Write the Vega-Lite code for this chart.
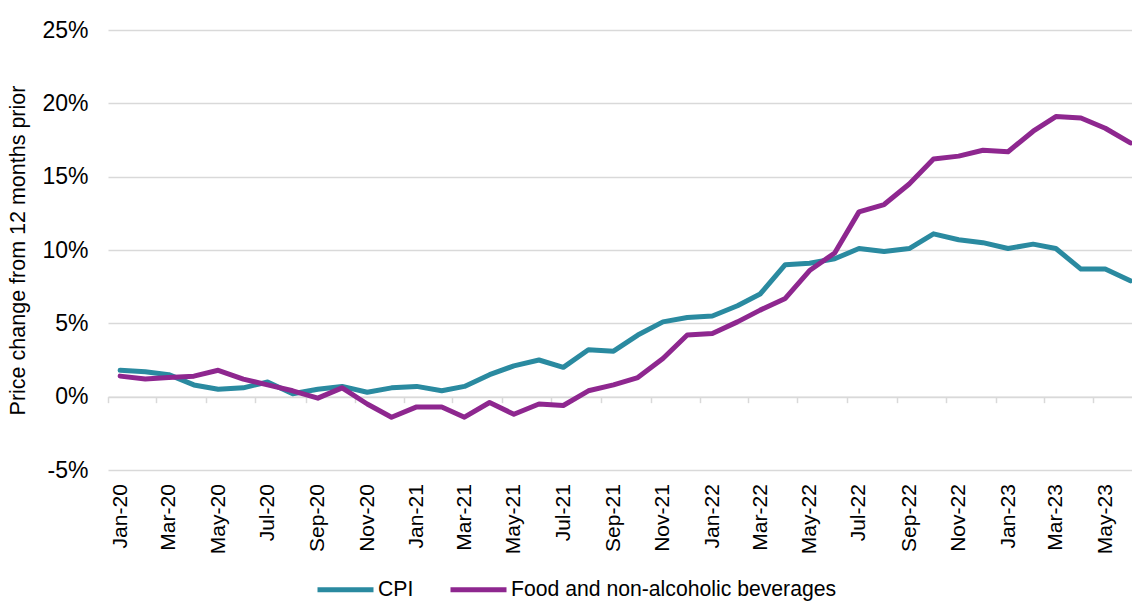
{
  "$schema": "https://vega.github.io/schema/vega-lite/v6.json",
  "autosize": "none",
  "padding": {"left": 108, "top": 30, "right": 0, "bottom": 132},
  "width": 1024,
  "height": 440,
  "background": "white",
  "config": {"font": "Liberation Sans", "view": {"stroke": null}},
  "data": {"values": [
    {"month": "2020/01/01", "series": "CPI", "value": 1.8},
    {"month": "2020/02/01", "series": "CPI", "value": 1.7},
    {"month": "2020/03/01", "series": "CPI", "value": 1.5},
    {"month": "2020/04/01", "series": "CPI", "value": 0.8},
    {"month": "2020/05/01", "series": "CPI", "value": 0.5},
    {"month": "2020/06/01", "series": "CPI", "value": 0.6},
    {"month": "2020/07/01", "series": "CPI", "value": 1.0},
    {"month": "2020/08/01", "series": "CPI", "value": 0.2},
    {"month": "2020/09/01", "series": "CPI", "value": 0.5},
    {"month": "2020/10/01", "series": "CPI", "value": 0.7},
    {"month": "2020/11/01", "series": "CPI", "value": 0.3},
    {"month": "2020/12/01", "series": "CPI", "value": 0.6},
    {"month": "2021/01/01", "series": "CPI", "value": 0.7},
    {"month": "2021/02/01", "series": "CPI", "value": 0.4},
    {"month": "2021/03/01", "series": "CPI", "value": 0.7},
    {"month": "2021/04/01", "series": "CPI", "value": 1.5},
    {"month": "2021/05/01", "series": "CPI", "value": 2.1},
    {"month": "2021/06/01", "series": "CPI", "value": 2.5},
    {"month": "2021/07/01", "series": "CPI", "value": 2.0},
    {"month": "2021/08/01", "series": "CPI", "value": 3.2},
    {"month": "2021/09/01", "series": "CPI", "value": 3.1},
    {"month": "2021/10/01", "series": "CPI", "value": 4.2},
    {"month": "2021/11/01", "series": "CPI", "value": 5.1},
    {"month": "2021/12/01", "series": "CPI", "value": 5.4},
    {"month": "2022/01/01", "series": "CPI", "value": 5.5},
    {"month": "2022/02/01", "series": "CPI", "value": 6.2},
    {"month": "2022/03/01", "series": "CPI", "value": 7.0},
    {"month": "2022/04/01", "series": "CPI", "value": 9.0},
    {"month": "2022/05/01", "series": "CPI", "value": 9.1},
    {"month": "2022/06/01", "series": "CPI", "value": 9.4},
    {"month": "2022/07/01", "series": "CPI", "value": 10.1},
    {"month": "2022/08/01", "series": "CPI", "value": 9.9},
    {"month": "2022/09/01", "series": "CPI", "value": 10.1},
    {"month": "2022/10/01", "series": "CPI", "value": 11.1},
    {"month": "2022/11/01", "series": "CPI", "value": 10.7},
    {"month": "2022/12/01", "series": "CPI", "value": 10.5},
    {"month": "2023/01/01", "series": "CPI", "value": 10.1},
    {"month": "2023/02/01", "series": "CPI", "value": 10.4},
    {"month": "2023/03/01", "series": "CPI", "value": 10.1},
    {"month": "2023/04/01", "series": "CPI", "value": 8.7},
    {"month": "2023/05/01", "series": "CPI", "value": 8.7},
    {"month": "2023/06/01", "series": "CPI", "value": 7.9},
    {"month": "2020/01/01", "series": "Food and non-alcoholic beverages", "value": 1.4},
    {"month": "2020/02/01", "series": "Food and non-alcoholic beverages", "value": 1.2},
    {"month": "2020/03/01", "series": "Food and non-alcoholic beverages", "value": 1.3},
    {"month": "2020/04/01", "series": "Food and non-alcoholic beverages", "value": 1.4},
    {"month": "2020/05/01", "series": "Food and non-alcoholic beverages", "value": 1.8},
    {"month": "2020/06/01", "series": "Food and non-alcoholic beverages", "value": 1.2},
    {"month": "2020/07/01", "series": "Food and non-alcoholic beverages", "value": 0.8},
    {"month": "2020/08/01", "series": "Food and non-alcoholic beverages", "value": 0.4},
    {"month": "2020/09/01", "series": "Food and non-alcoholic beverages", "value": -0.1},
    {"month": "2020/10/01", "series": "Food and non-alcoholic beverages", "value": 0.6},
    {"month": "2020/11/01", "series": "Food and non-alcoholic beverages", "value": -0.5},
    {"month": "2020/12/01", "series": "Food and non-alcoholic beverages", "value": -1.4},
    {"month": "2021/01/01", "series": "Food and non-alcoholic beverages", "value": -0.7},
    {"month": "2021/02/01", "series": "Food and non-alcoholic beverages", "value": -0.7},
    {"month": "2021/03/01", "series": "Food and non-alcoholic beverages", "value": -1.4},
    {"month": "2021/04/01", "series": "Food and non-alcoholic beverages", "value": -0.4},
    {"month": "2021/05/01", "series": "Food and non-alcoholic beverages", "value": -1.2},
    {"month": "2021/06/01", "series": "Food and non-alcoholic beverages", "value": -0.5},
    {"month": "2021/07/01", "series": "Food and non-alcoholic beverages", "value": -0.6},
    {"month": "2021/08/01", "series": "Food and non-alcoholic beverages", "value": 0.4},
    {"month": "2021/09/01", "series": "Food and non-alcoholic beverages", "value": 0.8},
    {"month": "2021/10/01", "series": "Food and non-alcoholic beverages", "value": 1.3},
    {"month": "2021/11/01", "series": "Food and non-alcoholic beverages", "value": 2.6},
    {"month": "2021/12/01", "series": "Food and non-alcoholic beverages", "value": 4.2},
    {"month": "2022/01/01", "series": "Food and non-alcoholic beverages", "value": 4.3},
    {"month": "2022/02/01", "series": "Food and non-alcoholic beverages", "value": 5.1},
    {"month": "2022/03/01", "series": "Food and non-alcoholic beverages", "value": 5.9},
    {"month": "2022/04/01", "series": "Food and non-alcoholic beverages", "value": 6.7},
    {"month": "2022/05/01", "series": "Food and non-alcoholic beverages", "value": 8.6},
    {"month": "2022/06/01", "series": "Food and non-alcoholic beverages", "value": 9.8},
    {"month": "2022/07/01", "series": "Food and non-alcoholic beverages", "value": 12.6},
    {"month": "2022/08/01", "series": "Food and non-alcoholic beverages", "value": 13.1},
    {"month": "2022/09/01", "series": "Food and non-alcoholic beverages", "value": 14.5},
    {"month": "2022/10/01", "series": "Food and non-alcoholic beverages", "value": 16.2},
    {"month": "2022/11/01", "series": "Food and non-alcoholic beverages", "value": 16.4},
    {"month": "2022/12/01", "series": "Food and non-alcoholic beverages", "value": 16.8},
    {"month": "2023/01/01", "series": "Food and non-alcoholic beverages", "value": 16.7},
    {"month": "2023/02/01", "series": "Food and non-alcoholic beverages", "value": 18.1},
    {"month": "2023/03/01", "series": "Food and non-alcoholic beverages", "value": 19.1},
    {"month": "2023/04/01", "series": "Food and non-alcoholic beverages", "value": 19.0},
    {"month": "2023/05/01", "series": "Food and non-alcoholic beverages", "value": 18.3},
    {"month": "2023/06/01", "series": "Food and non-alcoholic beverages", "value": 17.3}
  ]},
  "mark": {"type": "line", "strokeWidth": 5, "strokeJoin": "round", "strokeCap": "round"},
  "encoding": {
    "x": {
      "field": "month",
      "type": "temporal",
      "scale": {"domain": [{"year": 2019, "month": 12, "date": 17}, {"year": 2023, "month": 6, "date": 3}]},
      "axis": {
        "title": null,
        "format": "%b-%y",
        "tickCount": {"interval": "month", "step": 2},
        "labelAngle": -90,
        "labelAlign": "right",
        "labelBaseline": "middle",
        "labelFontSize": 21,
        "labelColor": "#000000",
        "labelPadding": 81,
        "labelOverlap": false,
        "labelFlush": false,
        "offset": -73.33,
        "tickOffset": -12.3,
        "labelOffset": 12.3,
        "tickSize": 6,
        "tickColor": "#D9D9D9",
        "tickWidth": 1.5,
        "domainColor": "#D9D9D9",
        "domainWidth": 1.5,
        "grid": false
      }
    },
    "y": {
      "field": "value",
      "type": "quantitative",
      "scale": {"domain": [-5, 25], "nice": false, "zero": false},
      "axis": {
        "title": "Price change from 12 months prior",
        "titleFontSize": 21.5,
        "titleFontWeight": "normal",
        "titleColor": "#000000",
        "titlePadding": 12,
        "values": [-5, 0, 5, 10, 15, 20, 25],
        "labelExpr": "datum.value + '%'",
        "labelFontSize": 23,
        "labelColor": "#000000",
        "labelPadding": 20,
        "ticks": false,
        "domain": false,
        "grid": true,
        "gridColor": "#D9D9D9",
        "gridWidth": 1.5
      }
    },
    "color": {
      "field": "series",
      "type": "nominal",
      "scale": {"domain": ["CPI", "Food and non-alcoholic beverages"], "range": ["#2A8AA0", "#8E278F"]},
      "legend": {
        "orient": "none",
        "legendX": 207,
        "legendY": 529,
        "direction": "horizontal",
        "title": null,
        "symbolType": "stroke",
        "symbolSize": 3136,
        "symbolStrokeWidth": 5,
        "labelFontSize": 21.2,
        "labelColor": "#000000",
        "labelLimit": 600,
        "labelOffset": 2,
        "columnPadding": 26
      }
    }
  }
}
